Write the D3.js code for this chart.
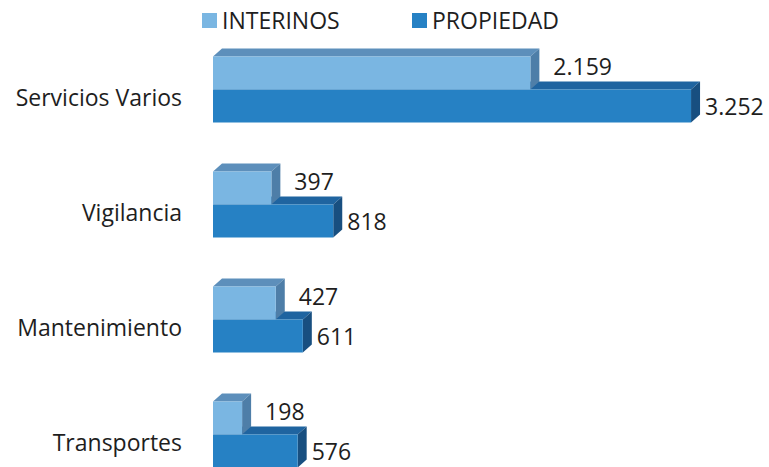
<!DOCTYPE html>
<html>
<head>
<meta charset="utf-8">
<script src="https://cdn.jsdelivr.net/npm/d3@7"></script>
<style>
  body { margin: 0; background: #fff; }
  svg { display: block; }
  text { font-family: "Open Sans", sans-serif; fill: #1e1e1e; }
</style>
</head>
<body>
<div id="chart"></div>
<script>
const categories = ['Servicios Varios', 'Vigilancia', 'Mantenimiento', 'Transportes'];
const interinos = [2159, 397, 427, 198];
const propiedad = [3252, 818, 611, 576];
const valueLabelsInt = ['2.159', '397', '427', '198'];
const valueLabelsProp = ['3.252', '818', '611', '576'];
const seriesNames = ['INTERINOS', 'PROPIEDAD'];

const width = 769, height = 467;
const depthX = 9, depthY = 8;
const barH = 33;
const fontSize = 23;

const colors = {
    INTERINOS: { front: '#7ab6e2', top: '#5d8fbb', side: '#4e7ea8' },
    PROPIEDAD: { front: '#2681c4', top: '#1f64a0', side: '#184f80' }
};

const svg = d3.select('#chart').append('svg')
    .attr('width', width)
    .attr('height', height);

const x = d3.scaleLinear()
    .domain([0, 3500])
    .range([213, 213 + 3500 * 0.147]);

const y = d3.scaleBand()
    .domain(categories)
    .range([40, 500])
    .padding(0);

// boundary between the two bars of a category
function mid(c) { return y(c) + y.bandwidth() / 2 - 8; }

function bar3d(g, x0, x1, yTop, c) {
    g.append('path')
        .attr('d', `M${x0},${yTop} L${x0 + depthX},${yTop - depthY} L${x1 + depthX},${yTop - depthY} L${x1},${yTop} Z`)
        .attr('fill', c.top);
    g.append('path')
        .attr('d', `M${x1},${yTop} L${x1 + depthX},${yTop - depthY} L${x1 + depthX},${yTop + barH - depthY} L${x1},${yTop + barH} Z`)
        .attr('fill', c.side);
    g.append('rect')
        .attr('x', x0).attr('y', yTop)
        .attr('width', x1 - x0).attr('height', barH)
        .attr('fill', c.front);
}

const plot = svg.append('g');

categories.forEach((c, i) => {
    const g = plot.append('g');
    const m = mid(c);
    bar3d(g, x(0), x(propiedad[i]), m, colors.PROPIEDAD);
    bar3d(g, x(0), x(interinos[i]), m - barH, colors.INTERINOS);

    g.append('text')
        .attr('x', x(interinos[i]) + depthX + 14)
        .attr('y', m - barH / 2 - 6)
        .attr('dy', '0.35em')
        .attr('font-size', fontSize)
        .text(valueLabelsInt[i]);

    g.append('text')
        .attr('x', x(propiedad[i]) + depthX + 5)
        .attr('y', m + barH / 2 + 1)
        .attr('dy', '0.35em')
        .attr('font-size', fontSize)
        .text(valueLabelsProp[i]);

    g.append('text')
        .attr('x', 182)
        .attr('y', y(c) + y.bandwidth() / 2)
        .attr('dy', '0.35em')
        .attr('text-anchor', 'end')
        .attr('font-size', fontSize)
        .text(c);
});

// legend
const legendX = [202, 412];
const legend = svg.append('g');
seriesNames.forEach((s, i) => {
    legend.append('rect')
        .attr('x', legendX[i]).attr('y', 13)
        .attr('width', 15).attr('height', 15)
        .attr('fill', colors[s].front);
    legend.append('text')
        .attr('x', legendX[i] + 20)
        .attr('y', 21)
        .attr('dy', '0.35em')
        .attr('font-size', fontSize)
        .text(s);
});
</script>
</body>
</html>
